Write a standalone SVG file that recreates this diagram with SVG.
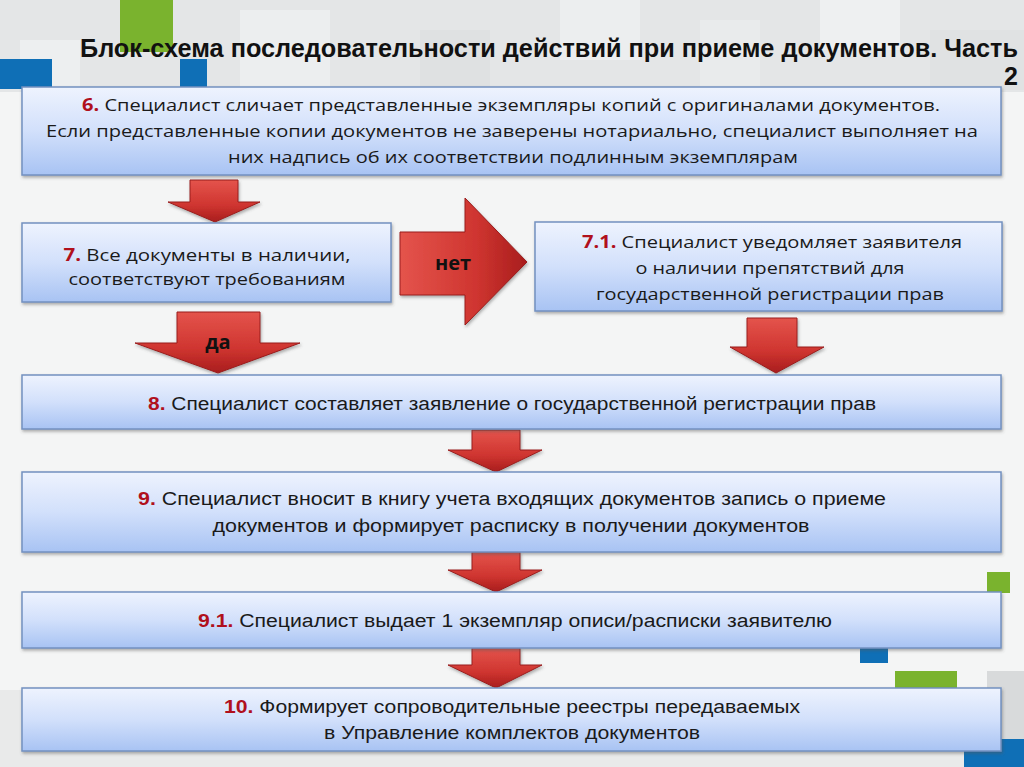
<svg xmlns="http://www.w3.org/2000/svg" width="1024" height="767" viewBox="0 0 1024 767">
  <defs>
    <linearGradient id="boxGrad" x1="0" y1="0" x2="0" y2="1">
      <stop offset="0" stop-color="#eef3fe"/>
      <stop offset="0.5" stop-color="#d2e0fb"/>
      <stop offset="1" stop-color="#a8c3f3"/>
    </linearGradient>
    <linearGradient id="arrowGrad" x1="0" y1="0" x2="0" y2="1">
      <stop offset="0" stop-color="#e4544c"/>
      <stop offset="0.6" stop-color="#cf3530"/>
      <stop offset="1" stop-color="#a81d1d"/>
    </linearGradient>
    <linearGradient id="arrowGradH" x1="0" y1="0" x2="1" y2="0">
      <stop offset="0" stop-color="#e4544c"/>
      <stop offset="0.6" stop-color="#cf3530"/>
      <stop offset="1" stop-color="#a81d1d"/>
    </linearGradient>
    <filter id="shadow" x="-5%" y="-10%" width="110%" height="130%">
      <feDropShadow dx="1" dy="2" stdDeviation="1.5" flood-color="#555" flood-opacity="0.45"/>
    </filter>
  </defs>
  <style>
    .box { fill: url(#boxGrad); stroke: #7391c0; stroke-width: 1.5; filter: url(#shadow); }
    .arrow { fill: url(#arrowGrad); stroke: #9a1c1c; stroke-width: 1; filter: url(#shadow); }
    .arrowH { fill: url(#arrowGradH); stroke: #9a1c1c; stroke-width: 1; filter: url(#shadow); }
    .t { font-family: "Open Sans", "Liberation Sans", sans-serif; font-size: 17px; fill: #1a1a1a; text-anchor: middle; }
    .tc { font-family: "Liberation Sans", "Open Sans", sans-serif; font-size: 18px; fill: #1a1a1a; text-anchor: middle; }
    .num { fill: #b0101c; font-weight: bold; }
    .lbl { font-family: "Open Sans", "Liberation Sans", sans-serif; font-size: 20px; font-weight: bold; fill: #111; text-anchor: middle; }
    .title { font-family: "Liberation Sans", "Open Sans", sans-serif; font-size: 25px; font-weight: bold; fill: #111; }
  </style>

  <!-- background -->
  <rect x="0" y="0" width="1024" height="767" fill="#f4f5f5"/>
  <g id="decor">
    <rect x="0" y="0" width="1024" height="92" fill="#e4e6e7"/>
    <rect x="20" y="40" width="60" height="50" fill="#edeff0"/>
    <rect x="240" y="10" width="90" height="80" fill="#eceeef"/>
    <rect x="420" y="30" width="70" height="60" fill="#dfe1e2"/>
    <rect x="560" y="0" width="80" height="60" fill="#eceeef"/>
    <rect x="700" y="20" width="60" height="70" fill="#e9ebec"/>
    <rect x="820" y="0" width="80" height="50" fill="#eef0f1"/>
    <rect x="930" y="30" width="94" height="60" fill="#e0e2e3"/>
    <rect x="120" y="0" width="53" height="52" fill="#7ab32e"/>
    <rect x="0" y="59" width="52" height="30" fill="#0f6fb6"/>
    <rect x="180" y="59" width="27" height="30" fill="#0f6fb6"/>
    <rect x="0" y="690" width="1024" height="77" fill="#e9eaea"/>
    <rect x="987" y="572" width="23" height="21" fill="#7ab32e"/>
    <rect x="860" y="647" width="28" height="16" fill="#0f6fb6"/>
    <rect x="895" y="671" width="62" height="20" fill="#7ab32e"/>
    <rect x="987" y="671" width="37" height="70" fill="#d8dadb"/>
    <rect x="964" y="739" width="60" height="28" fill="#0f6fb6"/>
  </g>

  <text class="title" x="80" y="57" textLength="938" lengthAdjust="spacingAndGlyphs">Блок-схема последовательности действий при приеме документов. Часть</text>
  <text class="title" x="1018" y="85" text-anchor="end">2</text>

  <!-- connectors -->
  <g id="connectors">
    <polygon id="a-6-7" class="arrow" points="190,180 238,180 238,202 260,202 215,222 168,202 190,202"/>
    <g id="a-no">
      <polygon class="arrowH" points="400,232 465,232 465,198 527,262 465,325 465,295 400,295"/>
      <text class="lbl" x="453" y="270">нет</text>
    </g>
    <g id="a-yes">
      <polygon class="arrow" points="177,312 260,312 260,343 300,343 218,373 135,343 177,343"/>
      <text class="lbl" x="218" y="349">да</text>
    </g>
    <polygon id="a-71-8" class="arrow" points="747,318 797,318 797,347 824,347 776,373 730,347 747,347"/>
    <polygon id="a-8-9" class="arrow" points="472,430 520,430 520,450 542,450 496,472 448,450 472,450"/>
    <polygon id="a-9-91" class="arrow" points="472,552 520,552 520,570 542,570 496,592 448,570 472,570"/>
    <polygon id="a-91-10" class="arrow" points="472,648 520,648 520,665 542,665 496,688 448,665 472,665"/>
  </g>

  <g id="node-6">
    <rect class="box" x="22" y="87" width="979" height="88"/>
    <text class="t" x="511" y="111" textLength="858" lengthAdjust="spacingAndGlyphs"><tspan class="num">6.</tspan> Специалист сличает представленные экземпляры копий с оригиналами документов.</text>
    <text class="t" x="512" y="137" textLength="932" lengthAdjust="spacingAndGlyphs">Если представленные копии  документов не заверены нотариально, специалист выполняет на</text>
    <text class="t" x="513" y="163" textLength="570" lengthAdjust="spacingAndGlyphs">них надпись об их соответствии подлинным экземплярам</text>
  </g>

  <g id="node-7">
    <rect class="box" x="22" y="223" width="369" height="79"/>
    <text class="t" x="207" y="261" textLength="287" lengthAdjust="spacingAndGlyphs"><tspan class="num">7.</tspan>  Все документы в наличии,</text>
    <text class="t" x="207" y="285" textLength="277" lengthAdjust="spacingAndGlyphs">соответствуют требованиям</text>
  </g>

  <g id="node-7-1">
    <rect class="box" x="535" y="222" width="467" height="89"/>
    <text class="t" x="772" y="248" textLength="380" lengthAdjust="spacingAndGlyphs"><tspan class="num">7.1.</tspan> Специалист уведомляет заявителя</text>
    <text class="t" x="770" y="274" textLength="269" lengthAdjust="spacingAndGlyphs">о наличии препятствий для</text>
    <text class="t" x="770" y="300" textLength="348" lengthAdjust="spacingAndGlyphs">государственной регистрации прав</text>
  </g>

  <g id="node-8">
    <rect class="box" x="22" y="375" width="979" height="54"/>
    <text class="tc" x="512" y="410" textLength="728" lengthAdjust="spacingAndGlyphs"><tspan class="num">8.</tspan> Специалист составляет заявление о государственной регистрации прав</text>
  </g>

  <g id="node-9">
    <rect class="box" x="22" y="472" width="979" height="80"/>
    <text class="tc" x="512" y="505" textLength="748" lengthAdjust="spacingAndGlyphs"><tspan class="num">9.</tspan>  Специалист вносит в книгу учета входящих документов запись о приеме</text>
    <text class="tc" x="511" y="532" textLength="597" lengthAdjust="spacingAndGlyphs">документов и формирует расписку в получении документов</text>
  </g>

  <g id="node-9-1">
    <rect class="box" x="22" y="592" width="979" height="56"/>
    <text class="tc" x="515" y="627" textLength="634" lengthAdjust="spacingAndGlyphs"><tspan class="num">9.1.</tspan> Специалист выдает 1 экземпляр описи/расписки заявителю</text>
  </g>

  <g id="node-10">
    <rect class="box" x="22" y="688" width="979" height="63"/>
    <text class="tc" x="512" y="713" textLength="576" lengthAdjust="spacingAndGlyphs"><tspan class="num">10.</tspan> Формирует сопроводительные реестры передаваемых</text>
    <text class="tc" x="512" y="739" textLength="376" lengthAdjust="spacingAndGlyphs">в Управление комплектов документов</text>
  </g>
</svg>
